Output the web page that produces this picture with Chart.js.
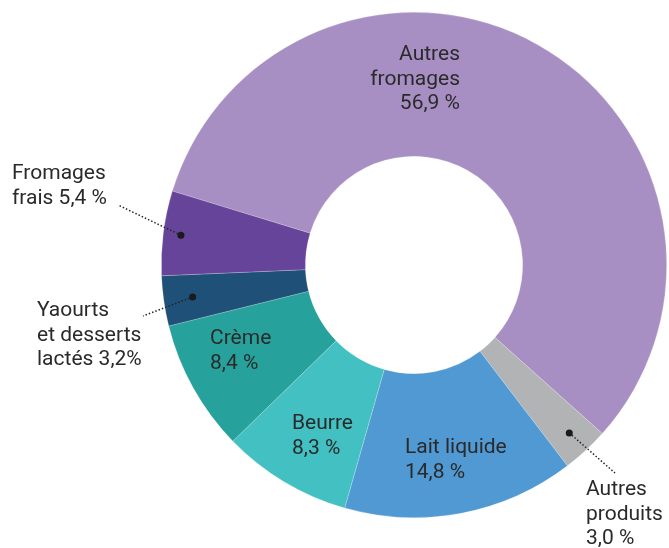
<!DOCTYPE html>
<html>
<head>
<meta charset="utf-8">
<script src="https://cdn.jsdelivr.net/npm/chart.js@4/dist/chart.umd.min.js"></script>
<style>
  html, body { margin: 0; padding: 0; background: #fff; }
  #wrap { width: 669px; height: 548px; position: relative; }
</style>
</head>
<body>
<div id="wrap"><canvas id="donut"></canvas></div>
<script>
// Parts of dairy use (percent)
var categories = ["Autres fromages", "Autres produits", "Lait liquide", "Beurre", "Crème", "Yaourts et desserts lactés", "Fromages frais"];
var shares = [56.9, 3.0, 14.8, 8.3, 8.4, 3.2, 5.4];
var sliceColors = ["#a78fc3", "#b1b3b4", "#5199d3", "#43c1c2", "#27a19c", "#1f5077", "#664499"];
var labelLines = [
    ["Autres", "fromages", "56,9 %"],
    ["Autres", "produits", "3,0 %"],
    ["Lait liquide", "14,8 %"],
    ["Beurre", "8,3 %"],
    ["Crème", "8,4 %"],
    ["Yaourts", "et desserts", "lactés 3,2%"],
    ["Fromages", "frais 5,4 %"]
];

// text placement, relative to the donut centre
var labelSpots = [
    { dx: 46, dy: -210, align: "right" },
    { dx: 172, dy: 225, align: "left", leader: { dx: 201, dy: 208, r: 0.905 } },
    { dx: -9, dy: 183, align: "left" },
    { dx: -122, dy: 159, align: "left" },
    { dx: -204, dy: 74, align: "left" },
    { dx: -377, dy: 46, align: "left", leader: { dx: -271, dy: 51, r: 0.885 } },
    { dx: -402, dy: -91, align: "left", leader: { dx: -296, dy: -60, r: 0.93 } }
];

var labelPlugin = {
    id: "donutLabels",
    afterDatasetsDraw: function(chart) {
        var ctx = chart.ctx;
        var arcs = chart.getDatasetMeta(0).data;
        ctx.save();
        ctx.font = "21px Roboto";
        ctx.textBaseline = "middle";
        arcs.forEach(function(arc, i) {
            var cx = arc.x, cy = arc.y;
            var spot = labelSpots[i];
            var lines = labelLines[i];
            if (spot.leader) {
                var mid = (arc.startAngle + arc.endAngle) / 2;
                var r = arc.outerRadius * spot.leader.r;
                var px = cx + Math.cos(mid) * r;
                var py = cy + Math.sin(mid) * r;
                ctx.beginPath();
                ctx.setLineDash([1.5, 2]);
                ctx.lineWidth = 1.5;
                ctx.strokeStyle = "#262626";
                ctx.moveTo(px, py);
                ctx.lineTo(cx + spot.leader.dx, cy + spot.leader.dy);
                ctx.stroke();
                ctx.setLineDash([]);
                ctx.beginPath();
                ctx.fillStyle = "#1a1a1a";
                ctx.arc(px, py, 3.5, 0, Math.PI * 2);
                ctx.fill();
            }
            ctx.fillStyle = "#2a2a2a";
            ctx.textAlign = spot.align;
            lines.forEach(function(line, k) {
                ctx.fillText(line, cx + spot.dx, cy + spot.dy + k * 24.5);
            });
        });
        ctx.restore();
    }
};

new Chart(document.getElementById("donut"), {
    type: "doughnut",
    data: {
        labels: categories,
        datasets: [{
            data: shares,
            backgroundColor: sliceColors,
            borderColor: "rgba(255,255,255,0.35)",
            borderWidth: 0.6
        }]
    },
    options: {
        responsive: true,
        maintainAspectRatio: false,
        animation: false,
        rotation: 287,
        cutout: "43%",
        layout: { padding: { left: 161, right: 2, top: 12, bottom: 30 } },
        plugins: {
            legend: { display: false },
            tooltip: { enabled: false }
        }
    },
    plugins: [labelPlugin]
});
</script>
</body>
</html>
